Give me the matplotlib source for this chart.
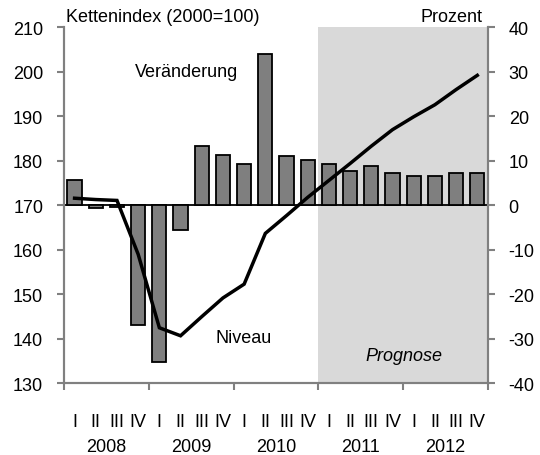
import matplotlib.pyplot as plt
from matplotlib.transforms import blended_transform_factory

plt.rcParams['font.family'] = ['Liberation Sans', 'DejaVu Sans']
plt.rcParams['font.size'] = 13
plt.rcParams['axes.unicode_minus'] = False

# quarters 2008 I .. 2012 IV
quarters = ['I', 'II', 'III', 'IV'] * 5
years = ['2008', '2009', '2010', '2011', '2012']

# Veränderung in Prozent (rechte Achse)
change = [5.6, -0.6, -0.3, -26.8, -35.1, -5.5, 13.3, 11.3, 9.2, 33.9,
          11.1, 10.1, 9.3, 7.7, 8.8, 7.3, 6.5, 6.5, 7.2, 7.2]
# Niveau, Kettenindex 2000=100 (linke Achse)
level = [171.6, 171.3, 171.1, 159.0, 142.5, 140.7, 145.0, 149.2, 152.3, 163.7,
         167.7, 171.8, 175.6, 179.4, 183.3, 187.0, 189.9, 192.6, 196.0, 199.2]
forecast_start = 12  # 2011 I

x = list(range(len(change)))
grey = '#808080'

fig = plt.figure(figsize=(5.4, 4.56), dpi=100)
ax = fig.add_axes([0.1185, 0.157, 0.785, 0.781])
ax2 = ax.twinx()
ax.set_zorder(ax2.get_zorder() + 1)
ax.patch.set_visible(False)

# forecast shading + bars on the right axis
ax2.axvspan(forecast_start - 0.5, len(x) - 0.5, color='#d9d9d9', lw=0, zorder=0)
ax2.bar(x, change, width=0.67, color='#7f7f7f', edgecolor='black', linewidth=1.3, zorder=2)
ax2.axhline(0, color='black', lw=1.3, zorder=1)
ax2.set_ylim(-40, 40)
ax2.set_yticks(range(-40, 41, 10))

# level line on the left axis
ax.plot(x, level, color='black', lw=2.5, solid_joinstyle='miter')
ax.set_ylim(130, 210)
ax.set_yticks(range(130, 211, 10))
ax.set_xlim(-0.5, len(x) - 0.5)

for a in (ax, ax2):
    a.spines['top'].set_visible(False)
    for s in ('left', 'right', 'bottom'):
        a.spines[s].set_color(grey)
        a.spines[s].set_linewidth(1.5)
    a.tick_params(axis='y', colors=grey, labelcolor='black', length=5, width=1.5, pad=10)

ax.set_xticks([i * 4 - 0.5 for i in range(6)])
ax.set_xticklabels([])
ax.set_xticks(x, minor=True)
ax.set_xticklabels(quarters, minor=True)
ax.tick_params(axis='x', which='major', colors=grey, length=5, width=1.5)
ax.tick_params(axis='x', which='minor', length=0, pad=21)
ax2.tick_params(axis='x', length=0)

trans = blended_transform_factory(ax.transData, ax.transAxes)
for i, yr in enumerate(years):
    ax.text(i * 4 + 1.5, -0.177, yr, transform=trans, ha='center', va='center')

ax.text(5.3, 200.0, 'Veränderung', ha='center', va='center')
ax.text(6.67, 140.4, 'Niveau', ha='left', va='center')
ax.text(15.54, 136.2, 'Prognose', ha='center', va='center', style='italic')

fig.text(66 / 540, 1 - 17 / 456, 'Kettenindex (2000=100)', ha='left', va='center')
fig.text(483 / 540, 1 - 17 / 456, 'Prozent', ha='right', va='center')

fig.savefig('out.png', dpi=100)
